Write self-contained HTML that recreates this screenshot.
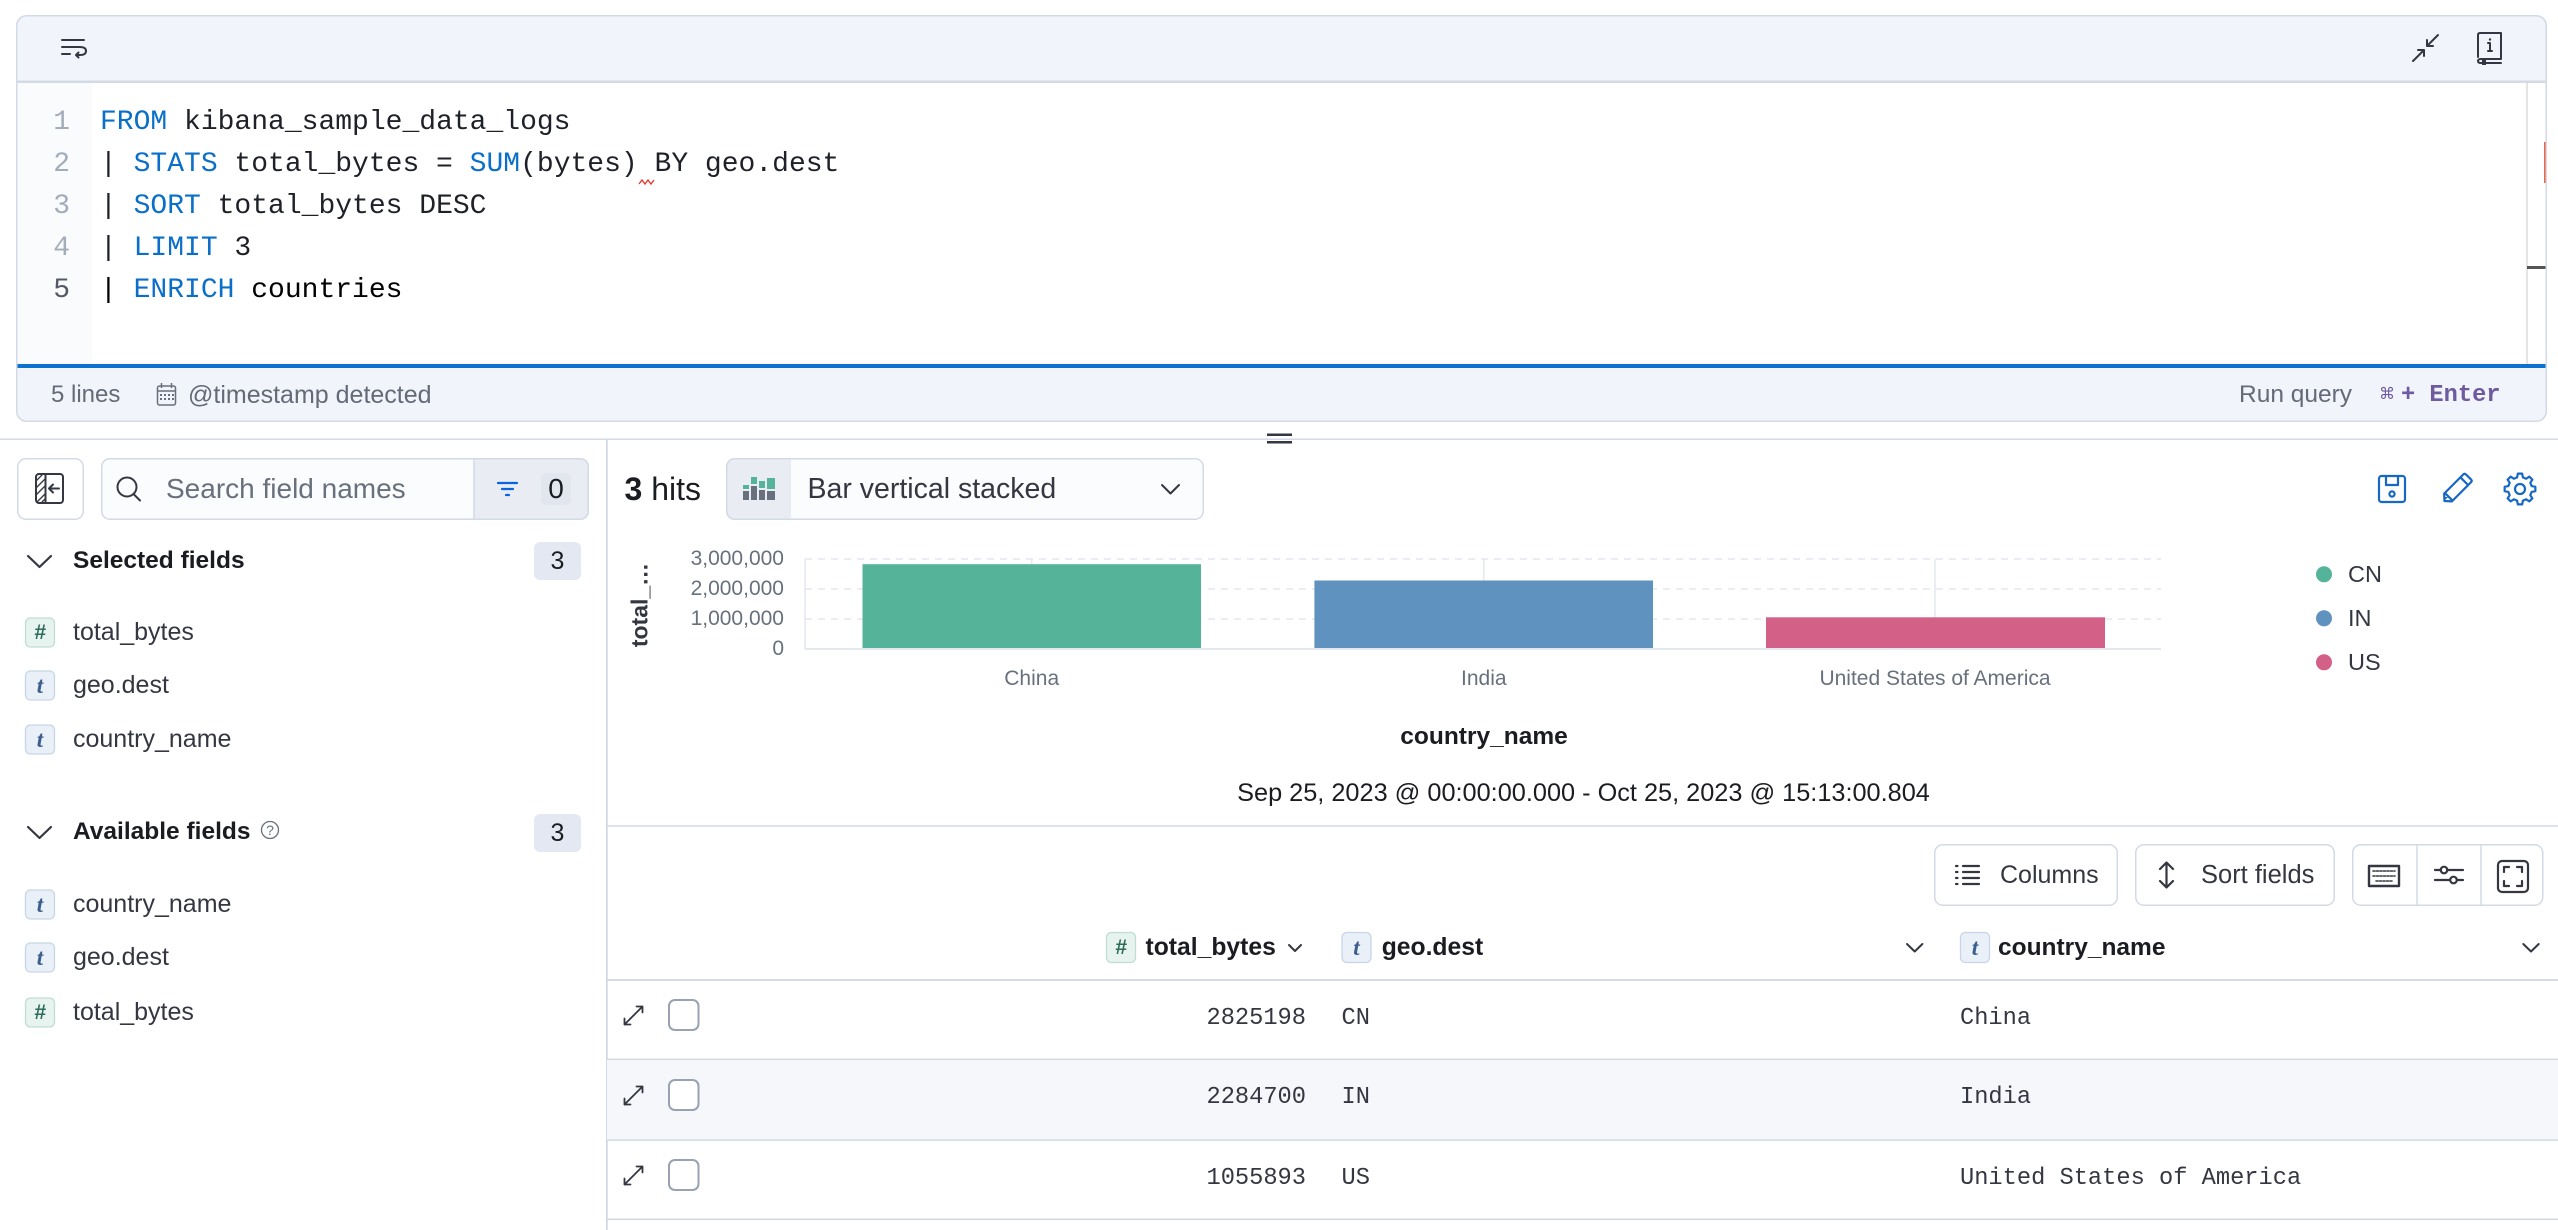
<!DOCTYPE html>
<html><head><meta charset="utf-8">
<style>
html,body{margin:0;padding:0;background:#fff;}
#root{position:relative;width:2558px;height:1230px;overflow:hidden;background:#fff;font-family:"Liberation Sans",sans-serif;color:#343741;}
svg.bg{position:absolute;left:0;top:0;}
.t{position:absolute;white-space:nowrap;line-height:1;}
.m{font-family:"Liberation Mono",monospace;}
.b{font-weight:bold;}
.code{position:absolute;left:100px;font:28px/42px "Liberation Mono",monospace;color:#1f2129;white-space:pre;}
.ln{position:absolute;left:20px;width:50px;text-align:right;font:28px/42px "Liberation Mono",monospace;color:#a3acbb;}
.kw{color:#0a6fc9;}
.c{transform:translateX(-50%);}
</style></head>
<body><div id="root">
<svg class="bg" width="2558" height="1230" viewBox="0 0 2558 1230" xmlns="http://www.w3.org/2000/svg">
<defs>
<clipPath id="ed"><rect x="16" y="15" width="2531" height="407" rx="10"/></clipPath>
<clipPath id="sb"><rect x="101" y="458" width="488" height="62" rx="8"/></clipPath>
<clipPath id="dd"><rect x="726" y="458" width="478" height="62" rx="8"/></clipPath>
</defs>
<!-- Editor -->
<rect x="16" y="15" width="2531" height="407" rx="10" fill="#fff"/>
<g clip-path="url(#ed)">
<rect x="16" y="15" width="2531" height="66" fill="#F1F4FA"/>
<rect x="16" y="80.5" width="2531" height="2.5" fill="#D3DAE6"/>
<rect x="16" y="83" width="76" height="281" fill="#FAFBFD"/>
<rect x="16" y="364" width="2531" height="4" fill="#0B72CF"/>
<rect x="16" y="368" width="2531" height="54" fill="#F1F4FA"/>
<line x1="2527" y1="83" x2="2527" y2="364" stroke="#DCDCDC" stroke-width="1.5"/>
<rect x="2544" y="142" width="2" height="41" fill="#E7664C"/>
<rect x="2527" y="266" width="19" height="3" fill="#555"/>
</g>
<rect x="16.75" y="15.75" width="2529.5" height="405.5" rx="10" fill="none" stroke="#D3DAE6" stroke-width="1.5"/>
<!-- wrap icon -->
<g stroke="#343741" stroke-width="2" fill="none" stroke-linecap="round" stroke-linejoin="round">
<path d="M62 40 H84 M62 47 H80 Q86 47 86 51 Q86 55 80 55 H76 M78.5 52.5 L76 55 L78.5 57.5 M62 54 H70"/>
<!-- minimize -->
<path d="M2413 61 L2424 50 M2418 50 H2424 V56 M2438 35 L2427 46 M2427 40 V46 H2433"/>
<!-- book -->
<path d="M2478 57 V35 Q2478 33 2480 33 H2501 V59 H2481 Q2478 59 2478 61 Q2478 63 2481 63 H2501"/>
<path d="M2490 43 V51 M2488 43 H2490 M2488 51 H2492"/>
</g>
<rect x="2482" y="59" width="4" height="6" fill="#343741"/>
<circle cx="2490" cy="39.5" r="1.2" fill="#343741"/>
<!-- squiggle -->
<polyline points="639,184 642,180 645,184 648,180 651,184 654,180" fill="none" stroke="#E7352C" stroke-width="1.3"/>
<!-- calendar -->
<g stroke="#69707D" stroke-width="1.5" fill="none">
<rect x="157.5" y="386" width="18" height="19" rx="2"/>
<line x1="157.5" y1="391" x2="175.5" y2="391"/>
<line x1="161.5" y1="383" x2="161.5" y2="388"/>
<line x1="171.5" y1="383" x2="171.5" y2="388"/>
</g>
<g fill="#69707D">
<rect x="160" y="394" width="2" height="2"/><rect x="164" y="394" width="2" height="2"/><rect x="168" y="394" width="2" height="2"/><rect x="172" y="394" width="2" height="2"/>
<rect x="160" y="398" width="2" height="2"/><rect x="164" y="398" width="2" height="2"/><rect x="168" y="398" width="2" height="2"/><rect x="172" y="398" width="2" height="2"/>
</g>

<!-- separators -->
<rect x="0" y="438.5" width="2558" height="1.5" fill="#D3DAE6"/>
<rect x="1267" y="433.5" width="25" height="2.5" fill="#343741"/>
<rect x="1267" y="441" width="25" height="2.5" fill="#343741"/>
<rect x="606" y="440" width="1.8" height="790" fill="#D3DAE6"/>
<rect x="607" y="825.2" width="1951" height="1.6" fill="#D3DAE6"/>

<!-- left panel -->
<rect x="17.75" y="458.75" width="65.5" height="60.5" rx="8" fill="#fff" stroke="#D3DAE6" stroke-width="1.5"/>
<g stroke="#343741" stroke-width="2" fill="none" stroke-linecap="round" stroke-linejoin="round">
<rect x="36" y="474" width="27" height="29" rx="3"/>
<line x1="45.5" y1="474" x2="45.5" y2="503"/>
<path d="M36 481 L42 475 M36 488 L45 479 M36 495 L45 486 M37 502 L45 494 M42 502 L45 499" stroke-width="1.3"/>
<path d="M49 488.5 H59 M53 484.5 L49 488.5 L53 492.5"/>
</g>
<rect x="101.75" y="458.75" width="486.5" height="60.5" rx="8" fill="#FBFCFD"/>
<g clip-path="url(#sb)"><rect x="474" y="458" width="116" height="62" fill="#E9EDF3"/></g>
<line x1="474" y1="459" x2="474" y2="519" stroke="#D3DAE6" stroke-width="1.5"/>
<rect x="101.75" y="458.75" width="486.5" height="60.5" rx="8" fill="none" stroke="#D3DAE6" stroke-width="1.5"/>
<g stroke="#343741" stroke-width="2" fill="none" stroke-linecap="round">
<circle cx="127" cy="487" r="9.5"/><line x1="134" y1="494.5" x2="140" y2="500.5"/>
</g>
<g stroke="#0B64DD" stroke-width="2.2" stroke-linecap="round">
<line x1="498" y1="483" x2="517" y2="483"/><line x1="502" y1="489" x2="513" y2="489"/><line x1="506" y1="495" x2="509" y2="495"/>
</g>
<rect x="541" y="473" width="30" height="32" rx="5" fill="#E2E7EF"/>
<g stroke="#343741" stroke-width="2.2" fill="none" stroke-linecap="round" stroke-linejoin="round">
<polyline points="28,556 39.5,567 51,556"/>
<polyline points="28,827 39.5,838 51,827"/>
</g>
<rect x="534" y="542" width="47" height="38" rx="6" fill="#E3E8F2"/>
<rect x="534" y="814" width="47" height="38" rx="6" fill="#E3E8F2"/>
<circle cx="270" cy="830" r="8.5" fill="none" stroke="#69707D" stroke-width="1.3"/>
<!-- field icons -->
<g stroke-width="1.3">
<rect x="25.5" y="618" width="29" height="29" rx="5" fill="#E7F3EF" stroke="#BFDDD3"/>
<rect x="25.5" y="671" width="29" height="29" rx="5" fill="#E9F0F8" stroke="#C8D5E8"/>
<rect x="25.5" y="725" width="29" height="29" rx="5" fill="#E9F0F8" stroke="#C8D5E8"/>
<rect x="25.5" y="890" width="29" height="29" rx="5" fill="#E9F0F8" stroke="#C8D5E8"/>
<rect x="25.5" y="943" width="29" height="29" rx="5" fill="#E9F0F8" stroke="#C8D5E8"/>
<rect x="25.5" y="998" width="29" height="29" rx="5" fill="#E7F3EF" stroke="#BFDDD3"/>
</g>

<!-- right panel top -->
<rect x="726.75" y="458.75" width="476.5" height="60.5" rx="8" fill="#FBFCFD"/>
<g clip-path="url(#dd)"><rect x="726" y="458" width="65" height="62" fill="#E9EDF3"/></g>
<rect x="726.75" y="458.75" width="476.5" height="60.5" rx="8" fill="none" stroke="#D3DAE6" stroke-width="1.5"/>
<g>
<rect x="743" y="485" width="6" height="4" fill="#54B399"/><rect x="743" y="491" width="6" height="9" fill="#69707D"/>
<rect x="751" y="477" width="6" height="7" fill="#54B399"/><rect x="751" y="486" width="6" height="14" fill="#69707D"/>
<rect x="759" y="481" width="6" height="7" fill="#54B399"/><rect x="759" y="490" width="6" height="10" fill="#69707D"/>
<rect x="767" y="478" width="8" height="11" fill="#54B399"/><rect x="767" y="491" width="8" height="9" fill="#69707D"/>
</g>
<polyline points="1162,485 1170.5,493.5 1179,485" fill="none" stroke="#343741" stroke-width="2" stroke-linecap="round" stroke-linejoin="round"/>
<!-- save/pencil/gear -->
<g stroke="#1767C4" stroke-width="2.2" fill="none" stroke-linejoin="round">
<rect x="2379" y="476" width="26" height="26" rx="2.5"/>
<path d="M2386 476 V485 H2398 V476"/>
<circle cx="2392" cy="494" r="2.6"/>
<g transform="translate(2456.5 489) rotate(-45)">
<path d="M-17 0 L-12 -5.5 H15 Q17 -5.5 17 -3.5 V3.5 Q17 5.5 15 5.5 H-12 Z"/>
<line x1="-11" y1="-5.5" x2="-11" y2="5.5"/>
<line x1="11" y1="-5.5" x2="11" y2="5.5"/>
</g>
<polygon transform="translate(2520 489)" points="11.64,-2.90 15.35,-2.16 15.35,2.16 11.64,2.90 10.29,6.18 12.38,9.33 9.33,12.38 6.18,10.29 2.90,11.64 2.16,15.35 -2.16,15.35 -2.90,11.64 -6.18,10.29 -9.33,12.38 -12.38,9.33 -10.29,6.18 -11.64,2.90 -15.35,2.16 -15.35,-2.16 -11.64,-2.90 -10.29,-6.18 -12.38,-9.33 -9.33,-12.38 -6.18,-10.29 -2.90,-11.64 -2.16,-15.35 2.16,-15.35 2.90,-11.64 6.18,-10.29 9.33,-12.38 12.38,-9.33 10.29,-6.18"/>
<circle cx="2520" cy="489" r="5"/>
</g>
<path d="M2444 501 L2448 497 L2444 497 Z" fill="#1767C4"/>

<!-- chart -->
<g stroke="#E3E8F0" stroke-width="1.5" fill="none">
<line x1="805" y1="559" x2="2161" y2="559" stroke-dasharray="7 6"/>
<line x1="805" y1="589" x2="2161" y2="589" stroke-dasharray="7 6"/>
<line x1="805" y1="619" x2="2161" y2="619" stroke-dasharray="7 6"/>
<line x1="805" y1="559" x2="805" y2="649"/>
<line x1="1031.7" y1="559" x2="1031.7" y2="649"/>
<line x1="1483.8" y1="559" x2="1483.8" y2="649"/>
<line x1="1935" y1="559" x2="1935" y2="649"/>
</g>
<rect x="862.5" y="564.2" width="338.5" height="84.8" fill="#54B399"/>
<rect x="1314.4" y="580.5" width="338.6" height="68.5" fill="#6092C0"/>
<rect x="1766" y="617.3" width="339" height="31.7" fill="#D36086"/>
<line x1="805" y1="649" x2="2161" y2="649" stroke="#E3E8F0" stroke-width="2"/>
<circle cx="2324" cy="574.3" r="8" fill="#54B399"/>
<circle cx="2324" cy="618.3" r="8" fill="#6092C0"/>
<circle cx="2324" cy="662.3" r="8" fill="#D36086"/>

<!-- table toolbar -->
<g fill="#fff" stroke="#D3DAE6" stroke-width="1.5">
<rect x="1934.75" y="844.75" width="182.5" height="60.5" rx="8"/>
<rect x="2135.75" y="844.75" width="198.5" height="60.5" rx="8"/>
<rect x="2352.75" y="844.75" width="190" height="60.5" rx="8"/>
<line x1="2417" y1="845" x2="2417" y2="905"/>
<line x1="2481" y1="845" x2="2481" y2="905"/>
</g>
<g stroke="#343741" stroke-width="2.2" fill="none" stroke-linecap="round" stroke-linejoin="round">
<path d="M1963 866 H1979 M1963 872 H1979 M1963 878 H1979 M1963 884 H1979"/>
<path d="M1956 866 H1957.5 M1956 872 H1957.5 M1956 878 H1957.5 M1956 884 H1957.5"/>
<path d="M2160 869 L2166.5 862.5 L2173 869 M2166.5 863 V887 M2160 881 L2166.5 887.5 L2173 881"/>
<rect x="2369" y="866" width="30" height="20" stroke-width="2.4"/>
<path d="M2373 871 H2395 M2373 876 H2395 M2376 881 H2392" stroke-width="1.6" stroke-dasharray="2 1.5"/>
<path d="M2435 870 H2441 M2447 870 H2463 M2435 880 H2450 M2457 880 H2463"/>
<circle cx="2444" cy="870" r="3.3"/>
<circle cx="2453.5" cy="880" r="3.3"/>
<rect x="2498" y="861" width="30" height="31" rx="4"/>
<path d="M2504 872 V867 H2509 M2517 867 H2522 V872 M2522 881 V886 H2517 M2509 886 H2504 V881"/>
</g>

<!-- table -->
<rect x="607" y="1060" width="1951" height="79.5" fill="#F5F7FA"/>
<rect x="607" y="979" width="1951" height="2" fill="#D3DAE6"/>
<rect x="607" y="1058.5" width="1951" height="1.6" fill="#D3DAE6"/>
<rect x="607" y="1139.3" width="1951" height="1.6" fill="#D3DAE6"/>
<rect x="607" y="1218.5" width="1951" height="1.6" fill="#D3DAE6"/>
<g stroke-width="1.3">
<rect x="1106.5" y="932.5" width="29" height="30" rx="5" fill="#E7F3EF" stroke="#BFDDD3"/>
<rect x="1342" y="932.5" width="29" height="30" rx="5" fill="#E9F0F8" stroke="#C8D5E8"/>
<rect x="1960.5" y="932.5" width="29" height="30" rx="5" fill="#E9F0F8" stroke="#C8D5E8"/>
</g>
<g stroke="#343741" stroke-width="2" fill="none" stroke-linecap="round" stroke-linejoin="round">
<polyline points="1289,945 1295,951 1301,945"/>
<polyline points="1907,944 1914.7,951.5 1922.4,944"/>
<polyline points="2523.3,944 2531,951.5 2538.7,944"/>
</g>
<g stroke="#343741" stroke-width="1.8" fill="none" stroke-linecap="round" stroke-linejoin="round">
<path d="M624.5 1024.5 L642.5 1006.5 M636.5 1006.5 H642.5 V1012.5 M624.5 1018.5 V1024.5 H630.5"/>
<path d="M624.5 1104.5 L642.5 1086.5 M636.5 1086.5 H642.5 V1092.5 M624.5 1098.5 V1104.5 H630.5"/>
<path d="M624.5 1184.5 L642.5 1166.5 M636.5 1166.5 H642.5 V1172.5 M624.5 1178.5 V1184.5 H630.5"/>
</g>
<g fill="#fff" stroke="#98A2B3" stroke-width="2">
<rect x="669" y="1000" width="29.5" height="30" rx="6"/>
<rect x="669" y="1080" width="29.5" height="30" rx="6"/>
<rect x="669" y="1160" width="29.5" height="30" rx="6"/>
</g>
</svg>

<!-- Editor text -->
<div class="ln" style="top:102px">1</div>
<div class="ln" style="top:144px">2</div>
<div class="ln" style="top:186px">3</div>
<div class="ln" style="top:228px">4</div>
<div class="ln" style="top:270px;color:#535966">5</div>
<div class="code" style="top:102px"><span class="kw">FROM</span> kibana_sample_data_logs</div>
<div class="code" style="top:144px">| <span class="kw">STATS</span> total_bytes = <span class="kw">SUM</span>(bytes) BY geo.dest</div>
<div class="code" style="top:186px">| <span class="kw">SORT</span> total_bytes DESC</div>
<div class="code" style="top:228px">| <span class="kw">LIMIT</span> 3</div>
<div class="code" style="top:270px;color:#000">| <span class="kw">ENRICH</span> countries</div>

<div class="t" style="left:51px;top:383px;font-size:24px;color:#646A77">5 lines</div>
<div class="t" style="left:188px;top:383px;font-size:25px;color:#646A77">@timestamp detected</div>
<div class="t" style="left:2239px;top:382.5px;font-size:24.5px;color:#646A77">Run query</div>
<div class="t" style="left:2379px;top:386px;font-size:16px;color:#6E5A9E;font-family:'DejaVu Sans',sans-serif">⌘</div>
<div class="t m b" style="left:2401px;top:383.5px;font-size:23.7px;color:#6E5A9E">+ Enter</div>

<!-- Left panel text -->
<div class="t" style="left:166px;top:475px;font-size:28px;color:#69707D">Search field names</div>
<div class="t c" style="left:556px;top:475px;font-size:28px;color:#1a1c21">0</div>
<div class="t b" style="left:73px;top:548.5px;font-size:24.5px;color:#1a1c21">Selected fields</div>
<div class="t c" style="left:557.5px;top:548.5px;font-size:25px;color:#1a1c21">3</div>
<div class="t b" style="left:73px;top:819.5px;font-size:24.5px;color:#1a1c21">Available fields</div>
<div class="t c" style="left:270px;top:823px;font-size:14px;color:#69707D">?</div>
<div class="t c" style="left:557.5px;top:820.5px;font-size:25px;color:#1a1c21">3</div>

<div class="t c b" style="left:40px;top:622px;font-size:21px;color:#2F6B5A;font-style:italic">#</div>
<div class="t c b" style="left:40px;top:674px;font-size:23px;color:#3B5E8C;font-style:italic;font-family:'Liberation Serif',serif">t</div>
<div class="t c b" style="left:40px;top:728px;font-size:23px;color:#3B5E8C;font-style:italic;font-family:'Liberation Serif',serif">t</div>
<div class="t c b" style="left:40px;top:893px;font-size:23px;color:#3B5E8C;font-style:italic;font-family:'Liberation Serif',serif">t</div>
<div class="t c b" style="left:40px;top:946px;font-size:23px;color:#3B5E8C;font-style:italic;font-family:'Liberation Serif',serif">t</div>
<div class="t c b" style="left:40px;top:1002px;font-size:21px;color:#2F6B5A;font-style:italic">#</div>

<div class="t" style="left:73px;top:619.5px;font-size:25px">total_bytes</div>
<div class="t" style="left:73px;top:672.5px;font-size:25px">geo.dest</div>
<div class="t" style="left:73px;top:726.5px;font-size:25px">country_name</div>
<div class="t" style="left:73px;top:892px;font-size:25px">country_name</div>
<div class="t" style="left:73px;top:944.5px;font-size:25px">geo.dest</div>
<div class="t" style="left:73px;top:999.5px;font-size:25px">total_bytes</div>

<!-- right panel header -->
<div class="t" style="left:624.5px;top:473px;font-size:32px;color:#1a1c21"><b>3</b> hits</div>
<div class="t" style="left:807.5px;top:475px;font-size:28.5px">Bar vertical stacked</div>

<!-- chart text -->
<div class="t" style="left:584px;width:200px;text-align:right;top:547.5px;font-size:21px;color:#69707D">3,000,000</div>
<div class="t" style="left:584px;width:200px;text-align:right;top:577.5px;font-size:21px;color:#69707D">2,000,000</div>
<div class="t" style="left:584px;width:200px;text-align:right;top:607.5px;font-size:21px;color:#69707D">1,000,000</div>
<div class="t" style="left:584px;width:200px;text-align:right;top:637.5px;font-size:21px;color:#69707D">0</div>
<div class="t b" style="left:640px;top:605px;font-size:23px;transform:translate(-50%,-50%) rotate(-90deg);line-height:1">total_…</div>
<div class="t c" style="left:1031.7px;top:667.5px;font-size:21px;color:#69707D">China</div>
<div class="t c" style="left:1483.8px;top:667.5px;font-size:21px;color:#69707D">India</div>
<div class="t c" style="left:1935px;top:667.5px;font-size:21px;color:#69707D">United States of America</div>
<div class="t c b" style="left:1484px;top:724.5px;font-size:24.5px;color:#1a1c21">country_name</div>
<div class="t c" style="left:1583.5px;top:780.5px;font-size:25.3px;color:#1a1c21">Sep 25, 2023 @ 00:00:00.000 - Oct 25, 2023 @ 15:13:00.804</div>
<div class="t" style="left:2348px;top:562.5px;font-size:23.5px">CN</div>
<div class="t" style="left:2348px;top:606.5px;font-size:23.5px">IN</div>
<div class="t" style="left:2348px;top:650.5px;font-size:23.5px">US</div>

<!-- table text -->
<div class="t" style="left:2000px;top:862.5px;font-size:25px">Columns</div>
<div class="t" style="left:2201px;top:862.5px;font-size:25.5px">Sort fields</div>

<div class="t c b" style="left:1121px;top:937px;font-size:21px;color:#2F6B5A;font-style:italic">#</div>
<div class="t c b" style="left:1356.5px;top:936px;font-size:23px;color:#3B5E8C;font-style:italic;font-family:'Liberation Serif',serif">t</div>
<div class="t c b" style="left:1975px;top:936px;font-size:23px;color:#3B5E8C;font-style:italic;font-family:'Liberation Serif',serif">t</div>
<div class="t b" style="left:1145.5px;top:935.5px;font-size:24.7px;color:#1a1c21">total_bytes</div>
<div class="t b" style="left:1381.7px;top:935.5px;font-size:24.7px;color:#1a1c21">geo.dest</div>
<div class="t b" style="left:1998px;top:935.5px;font-size:24.5px;color:#1a1c21">country_name</div>

<div class="t m" style="left:1106px;width:200px;text-align:right;top:1006.6px;font-size:23.7px">2825198</div>
<div class="t m" style="left:1106px;width:200px;text-align:right;top:1085.6px;font-size:23.7px">2284700</div>
<div class="t m" style="left:1106px;width:200px;text-align:right;top:1166.6px;font-size:23.7px">1055893</div>
<div class="t m" style="left:1341.5px;top:1006.6px;font-size:23.7px">CN</div>
<div class="t m" style="left:1341.5px;top:1085.6px;font-size:23.7px">IN</div>
<div class="t m" style="left:1341.5px;top:1166.6px;font-size:23.7px">US</div>
<div class="t m" style="left:1960px;top:1006.6px;font-size:23.7px">China</div>
<div class="t m" style="left:1960px;top:1085.6px;font-size:23.7px">India</div>
<div class="t m" style="left:1960px;top:1166.6px;font-size:23.7px">United States of America</div>
</div></body></html>
